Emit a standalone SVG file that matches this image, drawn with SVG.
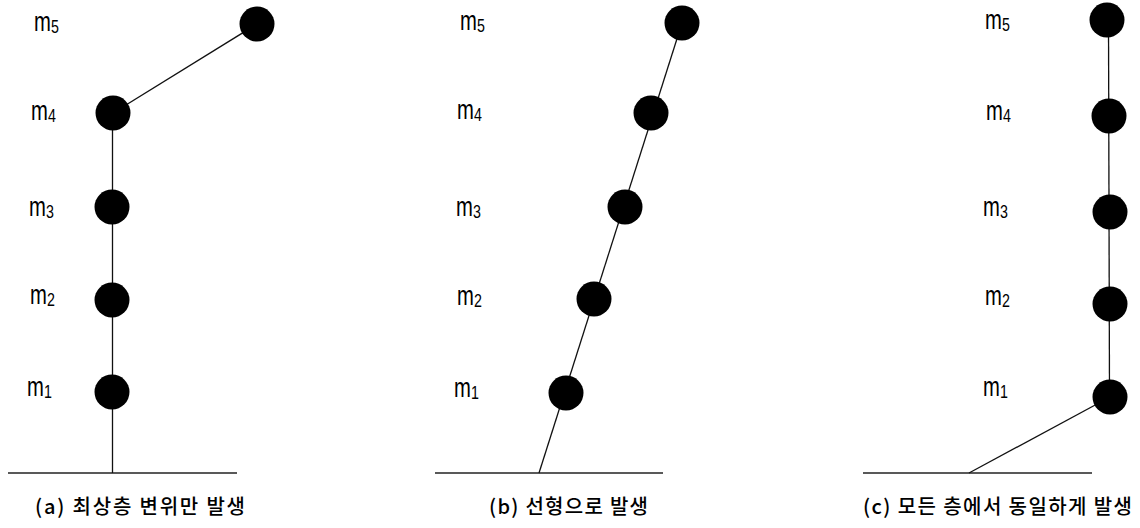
<svg xmlns="http://www.w3.org/2000/svg" width="1140" height="528" viewBox="0 0 1140 528">
<style>
.bg{fill:#fff}
.mass{fill:#000}
.ln{stroke:#111;stroke-width:1.3;fill:none}
.gr{stroke:#222;stroke-width:1.3;fill:none}
.lbl{font-family:"Liberation Sans",Arial,sans-serif;font-size:27px;fill:#000}
.sub{font-size:19px}
.cap{font-family:"Noto Sans CJK KR","Liberation Sans",sans-serif;font-size:20px;font-weight:500;fill:#000}
</style>
<rect class="bg" width="1140" height="528"/>
<g id="connectors">
  <line class="gr" x1="8" y1="473" x2="237" y2="473"/>
  <line class="ln" x1="112.5" y1="113" x2="112.5" y2="473"/>
  <line class="ln" x1="113" y1="113" x2="257" y2="24"/>
  <line class="gr" x1="435" y1="473" x2="663" y2="473"/>
  <line class="ln" x1="682" y1="23" x2="539" y2="473"/>
  <line class="gr" x1="863" y1="473" x2="1092" y2="473"/>
  <line class="ln" x1="1108.5" y1="20" x2="1109.5" y2="397"/>
  <line class="ln" x1="1110" y1="397" x2="969" y2="473"/>
</g>
<g id="panel-a">
  <g id="a-m5"><circle class="mass" cx="257" cy="24" r="17.5"/><text class="lbl" transform="translate(34 31) scale(0.75 1)">m<tspan class="sub" dy="2">5</tspan></text></g>
  <g id="a-m4"><circle class="mass" cx="113" cy="113" r="17.5"/><text class="lbl" transform="translate(31 120) scale(0.75 1)">m<tspan class="sub" dy="2">4</tspan></text></g>
  <g id="a-m3"><circle class="mass" cx="112" cy="207" r="17.5"/><text class="lbl" transform="translate(29 216) scale(0.75 1)">m<tspan class="sub" dy="2">3</tspan></text></g>
  <g id="a-m2"><circle class="mass" cx="112" cy="300" r="17.5"/><text class="lbl" transform="translate(30 304) scale(0.75 1)">m<tspan class="sub" dy="2">2</tspan></text></g>
  <g id="a-m1"><circle class="mass" cx="112" cy="392" r="17.5"/><text class="lbl" transform="translate(27 396) scale(0.75 1)">m<tspan class="sub" dy="2">1</tspan></text></g>
  <text id="cap-a" class="cap" x="35" y="514" textLength="210" lengthAdjust="spacing">(a) 최상층 변위만 발생</text>
</g>
<g id="panel-b">
  <g id="b-m5"><circle class="mass" cx="682" cy="23" r="17.5"/><text class="lbl" transform="translate(460 30) scale(0.75 1)">m<tspan class="sub" dy="2">5</tspan></text></g>
  <g id="b-m4"><circle class="mass" cx="651" cy="113" r="17.5"/><text class="lbl" transform="translate(457 119) scale(0.75 1)">m<tspan class="sub" dy="2">4</tspan></text></g>
  <g id="b-m3"><circle class="mass" cx="625" cy="207" r="17.5"/><text class="lbl" transform="translate(456 216) scale(0.75 1)">m<tspan class="sub" dy="2">3</tspan></text></g>
  <g id="b-m2"><circle class="mass" cx="594" cy="299" r="17.5"/><text class="lbl" transform="translate(457 305) scale(0.75 1)">m<tspan class="sub" dy="2">2</tspan></text></g>
  <g id="b-m1"><circle class="mass" cx="566" cy="393" r="17.5"/><text class="lbl" transform="translate(454 397) scale(0.75 1)">m<tspan class="sub" dy="2">1</tspan></text></g>
  <text id="cap-b" class="cap" x="489" y="514" textLength="159" lengthAdjust="spacing">(b) 선형으로 발생</text>
</g>
<g id="panel-c">
  <g id="c-m5"><circle class="mass" cx="1107" cy="20" r="17.5"/><text class="lbl" transform="translate(985 29) scale(0.75 1)">m<tspan class="sub" dy="2">5</tspan></text></g>
  <g id="c-m4"><circle class="mass" cx="1109" cy="116" r="17.5"/><text class="lbl" transform="translate(986 120) scale(0.75 1)">m<tspan class="sub" dy="2">4</tspan></text></g>
  <g id="c-m3"><circle class="mass" cx="1110" cy="212" r="17.5"/><text class="lbl" transform="translate(983 216) scale(0.75 1)">m<tspan class="sub" dy="2">3</tspan></text></g>
  <g id="c-m2"><circle class="mass" cx="1110" cy="304" r="17.5"/><text class="lbl" transform="translate(985 305) scale(0.75 1)">m<tspan class="sub" dy="2">2</tspan></text></g>
  <g id="c-m1"><circle class="mass" cx="1110" cy="397" r="17.5"/><text class="lbl" transform="translate(983 396) scale(0.75 1)">m<tspan class="sub" dy="2">1</tspan></text></g>
  <text id="cap-c" class="cap" x="863" y="514" textLength="269" lengthAdjust="spacing">(c) 모든 층에서 동일하게 발생</text>
</g>
</svg>
